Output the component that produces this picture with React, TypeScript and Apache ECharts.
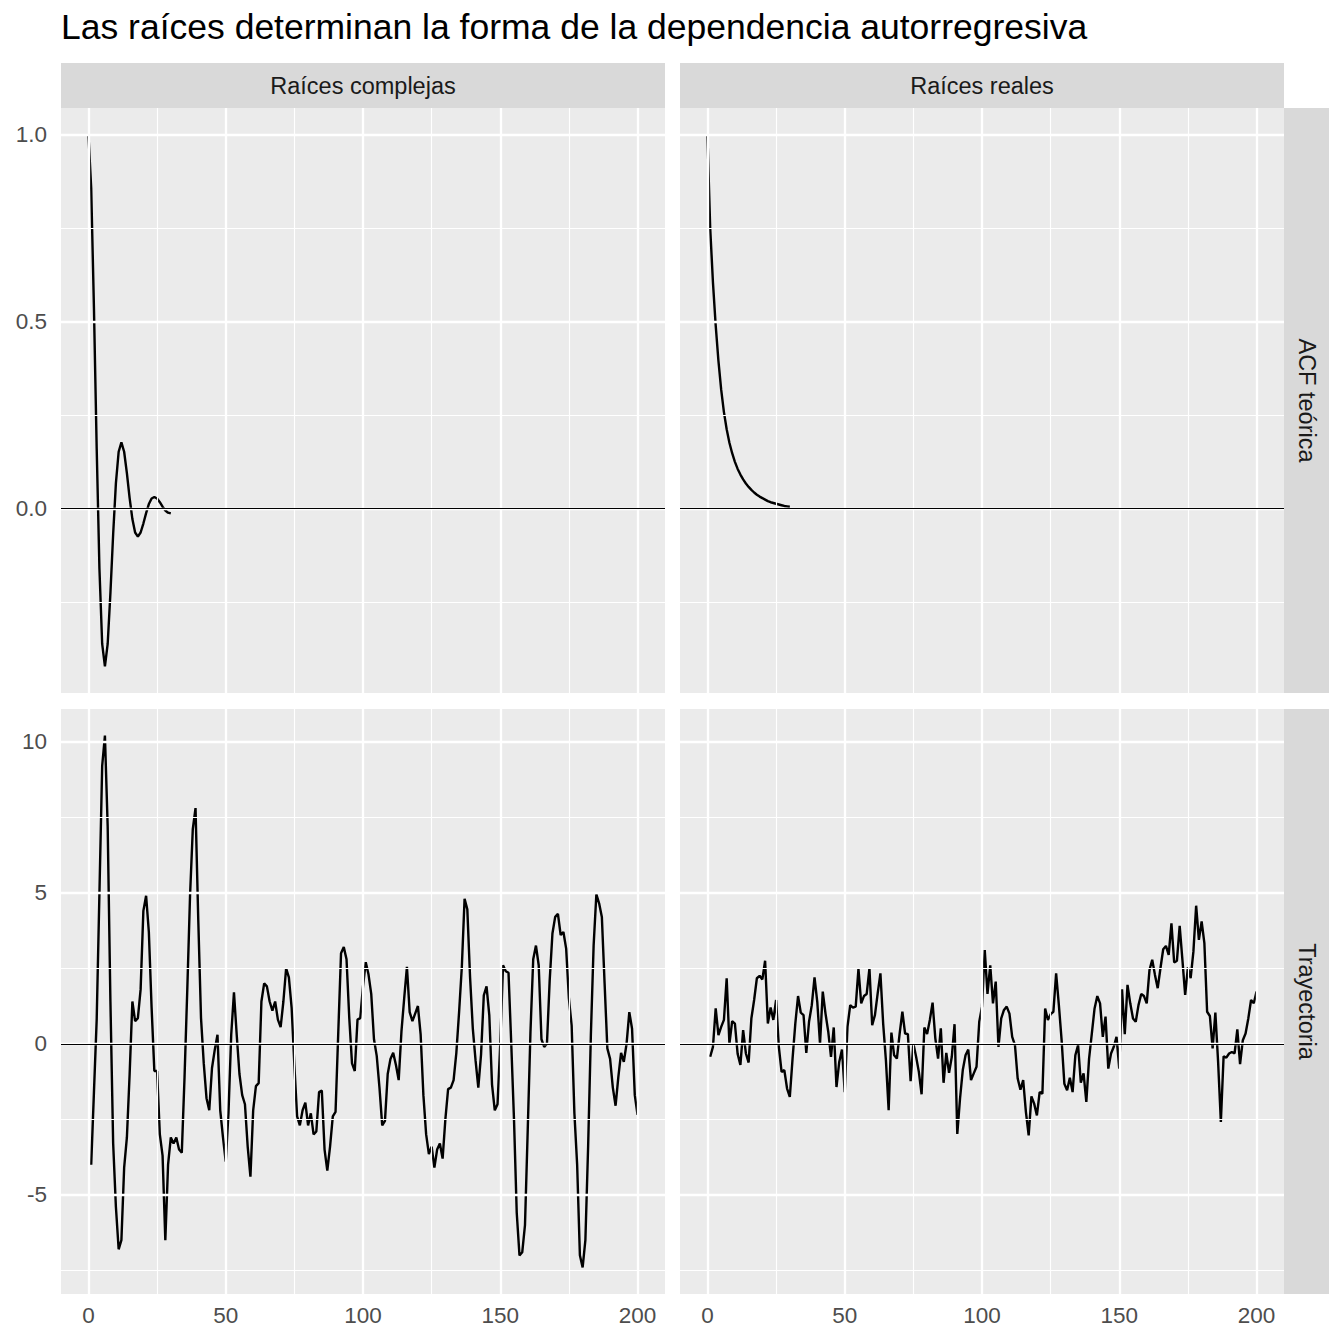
import { useEffect, useRef } from 'react'
import * as echarts from 'echarts'

const FONT = '"Liberation Sans", Arial, Helvetica, sans-serif'

const titulo = 'Las raíces determinan la forma de la dependencia autorregresiva'
const columnas = ['Raíces complejas', 'Raíces reales']
const filas = ['ACF teórica', 'Trayectoria']

// ACF teórica, retardos 0..30
const acfCompleja = [
    1, 0.857, 0.536, 0.161, -0.161, -0.362, -0.422, -0.362, -0.226, -0.068, 0.068,
    0.152, 0.177, 0.152, 0.095, 0.028, -0.028, -0.064, -0.075, -0.064, -0.04,
    -0.012, 0.012, 0.027, 0.031, 0.027, 0.017, 0.005, -0.005, -0.011, -0.013
]
const acfReal = [
    1, 0.75, 0.605, 0.49, 0.395, 0.318, 0.258, 0.212, 0.176, 0.148, 0.125,
    0.106, 0.091, 0.078, 0.067, 0.058, 0.05, 0.043, 0.037, 0.032, 0.028,
    0.024, 0.02, 0.017, 0.015, 0.013, 0.011, 0.009, 0.007, 0.006, 0.005
]

// trayectorias simuladas, t = 1..200
const trayCompleja = [
    -4.0, -1.6, 0.8, 5.0, 9.2, 10.2, 7.2, 1.4, -3.3, -5.4,
    -6.8, -6.5, -4.1, -3.1, -1.0, 1.4, 0.75, 0.85, 1.8, 4.4,
    4.9, 3.7, 1.2, -0.9, -0.9, -3.0, -3.7, -6.5, -4.0, -3.1,
    -3.3, -3.1, -3.5, -3.6, -1.1, 1.8, 4.9, 7.1, 7.8, 4.1,
    0.85, -0.65, -1.8, -2.2, -0.8, -0.2, 0.3, -2.2, -3.1, -3.9,
    -2.3, 0.3, 1.7, 0.3, -1.0, -1.7, -2.0, -3.4, -4.4, -2.2,
    -1.4, -1.3, 1.4, 2.0, 1.9, 1.4, 1.1, 1.4, 0.8, 0.55,
    1.4, 2.5, 2.2, 1.2, -0.7, -2.4, -2.7, -2.2, -1.95, -2.7,
    -2.3, -3.0, -2.9, -1.6, -1.55, -3.5, -4.2, -3.4, -2.4, -2.25,
    0.4, 3.0, 3.2, 2.8, 0.85, -0.65, -0.9, 0.8, 0.85, 1.9,
    2.7, 2.3, 1.65, 0.15, -0.4, -1.45, -2.7, -2.55, -1.0, -0.5,
    -0.3, -0.7, -1.2, 0.4, 1.5, 2.55, 1.05, 0.75, 1.0, 1.25,
    0.3, -1.7, -3.0, -3.65, -3.4, -4.1, -3.5, -3.3, -3.8, -2.5,
    -1.5, -1.45, -1.2, -0.3, 1.05, 2.55, 4.8, 4.45, 2.2, 0.5,
    -0.55, -1.45, -0.35, 1.6, 1.9, 0.95, -1.35, -2.2, -2.0, 0.0,
    2.6, 2.4, 2.35, 0.0, -2.5, -5.6, -7.0, -6.9, -6.0, -2.85,
    0.4, 2.8, 3.25, 2.6, 0.15, -0.1, 0.0, 2.1, 3.65, 4.2,
    4.3, 3.6, 3.7, 3.15, 1.5, 0.6, -2.3, -4.0, -7.0, -7.4,
    -6.5, -3.4, 0.3, 3.25, 4.95, 4.65, 4.2, 2.0, -0.15, -0.5,
    -1.45, -2.05, -1.1, -0.3, -0.6, 0.0, 1.05, 0.5, -1.7, -2.35
]
const trayReal = [
    -0.43, -0.1, 1.17, 0.29, 0.56, 0.79, 2.17, 0.0, 0.75, 0.67,
    -0.34, -0.7, 0.45, -0.32, -0.62, 0.84, 1.45, 2.17, 2.25, 2.13,
    2.75, 0.67, 1.2, 0.79, 1.45, -0.1, -0.93, -0.87, -1.48, -1.76,
    -0.49, 0.67, 1.58, 1.03, 0.95, -0.3, 0.73, 1.28, 2.2, 1.39,
    0.0, 1.73, 1.0, 0.4, -0.43, 0.54, -1.43, -0.6, -0.19, -1.6,
    0.56, 1.28, 1.2, 1.23, 2.48, 1.34, 1.58, 1.65, 2.5, 0.62,
    0.95, 1.67, 2.33, 0.67, -0.54, -2.2, 0.37, -0.38, -0.49, 0.34,
    1.06, 0.34, 0.32, -1.24, 0.01, -0.43, -0.93, -1.67, 0.54, 0.32,
    0.79, 1.36, 0.18, -0.49, 0.51, -1.29, -0.3, -0.96, -0.43, 0.65,
    -2.98, -1.81, -0.87, -0.38, -0.19, -1.2, -0.98, -0.76, 0.73, 1.23,
    3.1, 1.65, 2.6, 1.34, 2.06, -0.1, 0.84, 1.12, 1.23, 1.0,
    0.23, -0.04, -1.15, -1.52, -1.2, -2.26, -3.03, -1.74, -1.98, -2.37,
    -1.6, -1.65, 1.17, 0.79, 0.98, 1.06, 2.33, 1.28, 0.12, -1.32,
    -1.54, -1.12, -1.6, -0.38, -0.04, -1.29, -0.98, -1.92, -0.49, 0.34,
    1.17, 1.58, 1.34, 0.23, 0.9, -0.82, -0.32, -0.1, 0.23, -0.82,
    1.8, 0.32, 1.95, 1.34, 0.84, 0.73, 1.28, 1.65, 1.58, 1.34,
    2.44, 2.78, 2.28, 1.84, 2.5, 3.13, 3.24, 2.94, 3.99, 2.69,
    2.75, 3.9, 2.78, 1.62, 2.53, 2.17, 3.05, 4.57, 3.44, 4.05,
    3.33, 1.06, 0.92, -0.15, 1.03, -0.6, -2.59, -0.41, -0.46, -0.32,
    -0.27, -0.32, 0.48, -0.67, 0.12, 0.34, 0.84, 1.45, 1.34, 1.73
]

const xTicks = [0, 50, 100, 150, 200]
const xMinor = [25, 75, 125, 175]
const acfTicks = [0, 0.5, 1]
const acfMinor = [-0.25, 0.25, 0.75]
const trayTicks = [-5, 0, 5, 10]
const trayMinor = [-7.5, -2.5, 2.5, 7.5]

// geometría de los paneles (px)
const panelLeft = [61, 680]
const panelTop = [108, 709]
const panelW = 604
const panelH = 585
const stripH = 45

// rango con expansión del 5% (como ggplot)
function expand(vals: number[]) {
    const lo = Math.min(...vals)
    const hi = Math.max(...vals)
    const pad = (hi - lo) * 0.05
    return [lo - pad, hi + pad]
}

export default function App() {
    const chartRef = useRef<HTMLDivElement>(null)

    useEffect(() => {
        if (!chartRef.current) return
        const chart = echarts.init(chartRef.current, null, { renderer: 'svg' })

        const toPairs = (vals: number[], start: number) => vals.map((v, i) => [i + start, v])
        const paneles = [
            { data: toPairs(acfCompleja, 0), row: 0, col: 0 },
            { data: toPairs(acfReal, 0), row: 0, col: 1 },
            { data: toPairs(trayCompleja, 1), row: 1, col: 0 },
            { data: toPairs(trayReal, 1), row: 1, col: 1 }
        ]

        const allX = paneles.flatMap(p => p.data.map(d => d[0]))
        const [xMin, xMax] = expand(allX)
        const yRange = [expand([...acfCompleja, ...acfReal]), expand([...trayCompleja, ...trayReal])]
        const yTicks = [acfTicks, trayTicks]
        const yMinor = [acfMinor, trayMinor]

        const grids: any[] = []
        const xAxes: any[] = []
        const yAxes: any[] = []
        const series: any[] = []

        paneles.forEach((p, i) => {
            grids.push({
                left: panelLeft[p.col], top: panelTop[p.row], width: panelW, height: panelH,
                show: true, backgroundColor: '#EBEBEB', borderWidth: 0, containLabel: false
            })
            xAxes.push({
                type: 'value', gridIndex: i, min: xMin, max: xMax,
                axisLine: { show: false },
                splitLine: { show: false },
                axisTick: {
                    show: p.row === 1, customValues: xTicks, length: 6,
                    lineStyle: { color: '#333333', width: 2 }
                },
                axisLabel: {
                    show: p.row === 1, customValues: xTicks, margin: 10,
                    color: '#4D4D4D', fontSize: 22.5, fontFamily: FONT
                }
            })
            yAxes.push({
                type: 'value', gridIndex: i, min: yRange[p.row][0], max: yRange[p.row][1],
                axisLine: { show: false },
                splitLine: { show: false },
                axisTick: {
                    show: p.col === 0, customValues: yTicks[p.row], length: 6,
                    lineStyle: { color: '#333333', width: 2 }
                },
                axisLabel: {
                    show: p.col === 0, customValues: yTicks[p.row], margin: 14,
                    color: '#4D4D4D', fontSize: 22.5, fontFamily: FONT,
                    formatter: (v: number) => (p.row === 0 ? v.toFixed(1) : String(v))
                }
            })

            const major = { color: '#FFFFFF', width: 2.3, type: 'solid' }
            const minor = { color: '#FFFFFF', width: 1.15, type: 'solid' }
            // líneas de rejilla
            series.push({
                type: 'line', xAxisIndex: i, yAxisIndex: i, z: 1,
                data: [[xTicks[0], yTicks[p.row][0]]], symbol: 'none', silent: true,
                lineStyle: { opacity: 0 },
                markLine: {
                    silent: true, symbol: 'none', label: { show: false }, animation: false,
                    data: [
                        ...yMinor[p.row].map(v => ({ yAxis: v, lineStyle: minor })),
                        ...xMinor.map(v => ({ xAxis: v, lineStyle: minor })),
                        ...yTicks[p.row].map(v => ({ yAxis: v, lineStyle: major })),
                        ...xTicks.map(v => ({ xAxis: v, lineStyle: major }))
                    ]
                }
            })
            // serie
            series.push({
                type: 'line', xAxisIndex: i, yAxisIndex: i, z: 3,
                data: p.data, showSymbol: false, symbol: 'none',
                lineStyle: { color: '#000000', width: 2.4 }
            })
            // recta en cero
            series.push({
                type: 'line', xAxisIndex: i, yAxisIndex: i, z: 4,
                data: [[xTicks[0], 0]], symbol: 'none', silent: true,
                lineStyle: { opacity: 0 },
                markLine: {
                    silent: true, symbol: 'none', label: { show: false }, animation: false,
                    data: [{ yAxis: 0, lineStyle: { color: '#000000', width: 1.2, type: 'solid' } }]
                }
            })
        })

        const graphic: any[] = [
            {
                type: 'text', left: 61, top: 9,
                style: { text: titulo, fill: '#000000', font: `35.5px ${FONT}` }
            }
        ]
        columnas.forEach((txt, c) => {
            graphic.push({
                type: 'rect',
                shape: { x: panelLeft[c], y: panelTop[0] - stripH, width: panelW, height: stripH },
                style: { fill: '#D9D9D9' }
            })
            graphic.push({
                type: 'text', x: panelLeft[c] + panelW / 2, y: panelTop[0] - stripH / 2,
                style: {
                    text: txt, fill: '#1A1A1A', font: `23.5px ${FONT}`,
                    align: 'center', verticalAlign: 'middle'
                }
            })
        })
        filas.forEach((txt, r) => {
            const x0 = panelLeft[1] + panelW
            graphic.push({
                type: 'rect',
                shape: { x: x0, y: panelTop[r], width: stripH, height: panelH },
                style: { fill: '#D9D9D9' }
            })
            graphic.push({
                type: 'text', x: x0 + stripH / 2, y: panelTop[r] + panelH / 2,
                rotation: -Math.PI / 2,
                style: {
                    text: txt, fill: '#1A1A1A', font: `23.5px ${FONT}`,
                    align: 'center', verticalAlign: 'middle'
                }
            })
        })

        chart.setOption({
            animation: false,
            backgroundColor: '#FFFFFF',
            grid: grids,
            xAxis: xAxes,
            yAxis: yAxes,
            series,
            graphic
        })

        return () => {
            chart.dispose()
        }
    }, [])

    return (
        <div
            ref={chartRef}
            style={{ position: 'absolute', left: 0, top: 0, width: 1344, height: 1344 }}
        />
    )
}
